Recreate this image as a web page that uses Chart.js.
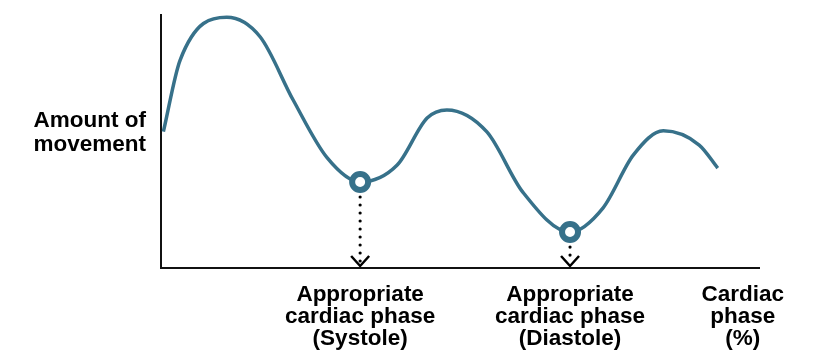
<!DOCTYPE html>
<html>
<head>
<meta charset="utf-8">
<script src="https://cdn.jsdelivr.net/npm/chart.js@4/dist/chart.umd.min.js"></script>
<style>
  html, body { margin: 0; padding: 0; background: #fff; }
</style>
</head>
<body>
<canvas id="chart" width="816" height="362"></canvas>
<script>
// ================= DATA =================

// movement curve (x = cardiac phase %, y = amount of movement)
const curveX = [0.4, 3.2, 11.0, 16.6, 22.1, 27.8, 33.3, 39.5, 44.5, 47.8, 54.5,
                60.5, 68.4, 73.9, 79.0, 84.0, 90.0, 93.1];
const curveY = [53.9, 82.2, 99.1, 91.3, 66.4, 43.5, 34.0, 40.7, 59.3, 62.5, 53.8,
                30.0, 14.2, 23.7, 44.7, 54.2, 48.6, 39.5];

// minimum-movement markers
const markerX = [33.3, 68.4];
const markerY = [34.0, 14.2];

// axis labels
const xTickValues = [33.3, 68.4, 97.3];
const xTickLabels = [
  ["Appropriate", "cardiac phase", "(Systole)"],
  ["Appropriate", "cardiac phase", "(Diastole)"],
  ["Cardiac", "phase", "(%)"]
];
const yTickValues = [53.4];
const yTickLabels = [["Amount of", "movement"]];

const TEAL = "#37718a";
const FONT = "'Liberation Sans', Arial, Helvetica, sans-serif";

// ================= DOTTED ARROWS =================

const dropArrows = {
  id: "dropArrows",
  afterDraw(chart) {
    const { ctx, scales: { x, y } } = chart;
    ctx.save();
    ctx.fillStyle = "#000";
    ctx.strokeStyle = "#000";
    markerX.forEach((mx, i) => {
      const px = x.getPixelForValue(mx);
      const top = y.getPixelForValue(markerY[i]) + 15;
      const bottom = y.getPixelForValue(0) - 1;
      for (let py = top; py < bottom - 4; py += 8) {
        ctx.beginPath();
        ctx.arc(px, py, 1.6, 0, Math.PI * 2);
        ctx.fill();
      }
      ctx.lineWidth = 2.5;
      ctx.lineJoin = "miter";
      ctx.beginPath();
      ctx.moveTo(px - 9, bottom - 11);
      ctx.lineTo(px, bottom - 1);
      ctx.lineTo(px + 9, bottom - 11);
      ctx.stroke();
    });
    ctx.restore();
  }
};

// ================= CHART =================

new Chart(document.getElementById("chart"), {
  type: "line",
  data: {
    datasets: [
      {
        data: markerX.map((v, i) => ({ x: v, y: markerY[i] })),
        showLine: false,
        pointRadius: 8,
        pointBorderWidth: 6,
        pointBorderColor: TEAL,
        pointBackgroundColor: "#fff"
      },
      {
        data: curveX.map((v, i) => ({ x: v, y: curveY[i] })),
        borderColor: TEAL,
        borderWidth: 3.5,
        pointRadius: 0,
        cubicInterpolationMode: "monotone",
        fill: false
      }
    ]
  },
  options: {
    responsive: false,
    animation: false,
    devicePixelRatio: 1,
    layout: { padding: { top: 15, right: 57, left: 0, bottom: 0 } },
    plugins: { legend: { display: false }, tooltip: { enabled: false } },
    scales: {
      x: {
        type: "linear",
        min: 0,
        max: 100,
        grid: { display: false, drawTicks: false },
        border: { display: true, color: "#111", width: 2 },
        afterBuildTicks: s => { s.ticks = xTickValues.map(v => ({ value: v })); },
        afterFit: s => { s.height = 94; s.paddingLeft = 0; s.paddingRight = 0; },
        ticks: {
          autoSkip: false,
          maxRotation: 0,
          minRotation: 0,
          padding: 16,
          color: "#000",
          font: { family: FONT, size: 22.5, weight: "bold", lineHeight: 0.98 },
          callback: (v, i) => xTickLabels[i]
        }
      },
      y: {
        type: "linear",
        min: 0,
        max: 100,
        grid: { display: false, drawTicks: false },
        border: { display: true, color: "#111", width: 2 },
        afterBuildTicks: s => { s.ticks = yTickValues.map(v => ({ value: v })); },
        afterFit: s => { s.width = 161; s.paddingTop = 0; s.paddingBottom = 0; },
        ticks: {
          autoSkip: false,
          padding: 15,
          color: "#000",
          font: { family: FONT, size: 22.5, weight: "bold", lineHeight: 1.07 },
          callback: (v, i) => yTickLabels[i]
        }
      }
    }
  },
  plugins: [dropArrows]
});
</script>
</body>
</html>
